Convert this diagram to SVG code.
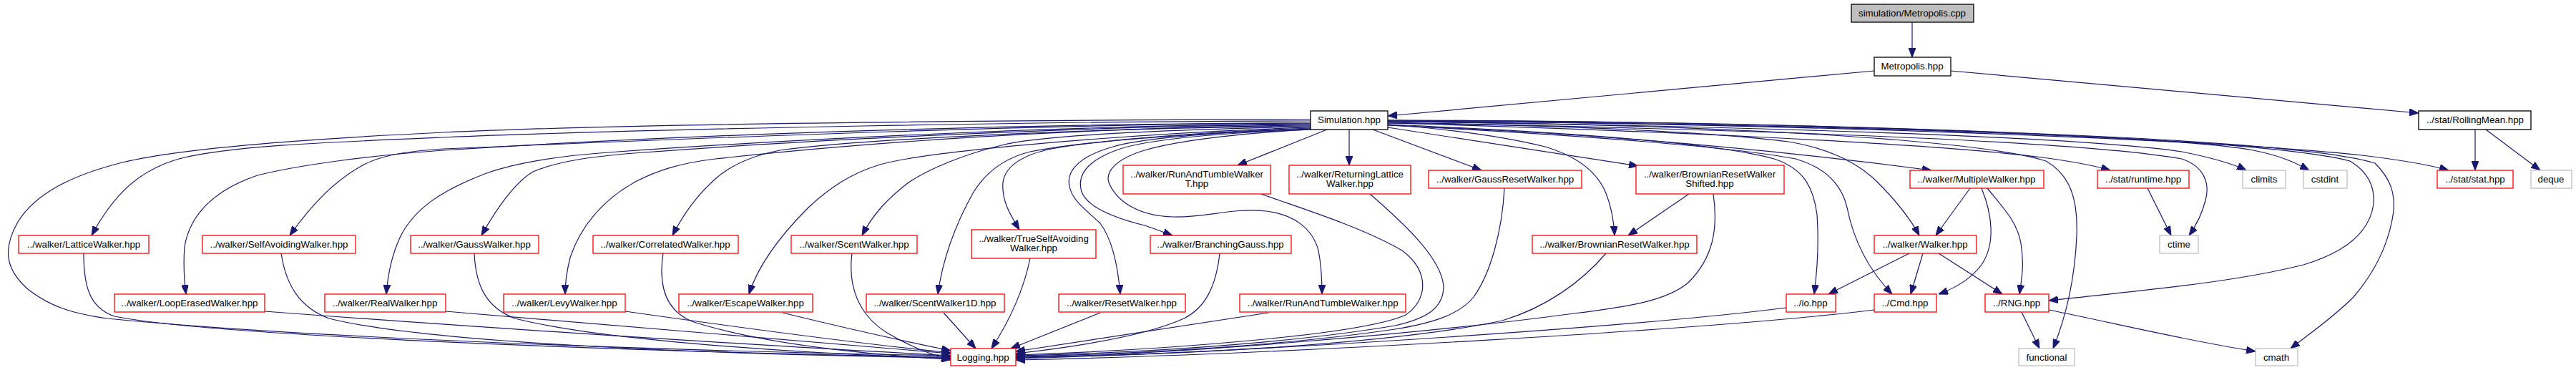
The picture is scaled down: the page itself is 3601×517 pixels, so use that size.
<svg xmlns="http://www.w3.org/2000/svg" width="3601" height="517" viewBox="0 0 3601 517">
<defs>
<style>
.n rect{fill:#ffffff;stroke:#ff0000;stroke-width:1.3}
.b rect{fill:#ffffff;stroke:#000000;stroke-width:1.3}
.g rect{fill:#ffffff;stroke:#bfbfbf;stroke-width:1.3}
.root rect{fill:#bfbfbf;stroke:#000000;stroke-width:1.3}
text{font-family:"Liberation Sans",Arial,sans-serif;font-size:13.3px;fill:#000000;text-anchor:middle}
#edges path{fill:none;stroke:#191970;stroke-width:1.2;marker-end:url(#a)}
</style>
<marker id="a" markerWidth="13" markerHeight="10" refX="13" refY="5" orient="auto" markerUnits="userSpaceOnUse"><path d="M0,0 L13,5 L0,10 z" fill="#191970" stroke="#191970" stroke-width="1"/></marker>
</defs>
<rect width="3601" height="517" fill="#ffffff"/>
<g id="edges">
<path d="M2673,31 L2673,80"/>
<path d="M2620,99 L1940,162"/>
<path d="M2727,99 L3381,158"/>
<path d="M3460,181 L3460,238"/>
<path d="M3475,181 L3551,238"/>
<path d="M1832,167 C1500,167 900,172 620,185 C450,193 260,205 171,227 C100,245 50,270 25,310 C5,345 5,375 40,405 C70,428 100,438 150,445 C400,470 900,490 1329,497"/>
<path d="M1832,169 C1500,169 900,180 620,192 C450,199 320,204 250,222 C195,238 160,270 128,329"/>
<path d="M1832,172 C1500,172 1000,185 620,210 C520,217 420,230 360,245 C300,265 265,300 258,345 C256,370 258,395 260,411"/>
<path d="M1832,172 C1500,172 1000,192 620,208 C560,212 530,218 505,232 C470,252 440,280 405,329"/>
<path d="M1832,173 C1500,175 1100,195 850,213 C780,218 720,228 680,242 C620,265 580,290 560,330 C548,355 542,385 540,411"/>
<path d="M1832,174 C1500,176 1100,198 900,213 C830,218 780,225 745,240 C720,255 695,290 673,329"/>
<path d="M1832,175 C1500,178 1200,200 1000,222 C950,228 920,238 890,253 C840,280 810,320 797,360 C792,380 790,395 790,411"/>
<path d="M1832,176 C1500,180 1200,195 1090,210 C1050,218 1020,232 1000,250 C975,272 955,300 940,329"/>
<path d="M1832,178 C1600,185 1300,210 1230,230 C1190,242 1160,262 1130,290 C1090,330 1060,370 1047,411"/>
<path d="M1832,177 C1600,182 1450,190 1400,203 C1350,215 1300,235 1270,255 C1240,278 1220,300 1205,329"/>
<path d="M1832,179 C1650,185 1500,200 1440,212 C1400,222 1375,245 1360,270 C1335,315 1318,360 1311,411"/>
<path d="M1832,180 C1650,187 1520,198 1470,208 C1430,216 1405,232 1402,255 C1400,280 1412,300 1425,321"/>
<path d="M1832,180 C1700,185 1600,192 1556,205 C1510,218 1490,238 1495,260 C1498,280 1520,295 1538,312 C1555,335 1563,375 1566,411"/>
<path d="M1832,181 C1700,186 1600,195 1560,210 C1520,225 1505,245 1512,268 C1520,290 1560,305 1600,315 C1615,320 1628,325 1639,329"/>
<path d="M1832,181 C1750,185 1650,195 1600,210 C1560,222 1545,240 1550,255 C1560,280 1590,302 1640,303 C1690,304 1720,290 1770,295 C1810,300 1835,320 1843,350 C1847,370 1848,390 1848,411"/>
<path d="M1855,181 L1730,231"/>
<path d="M1886,181 L1886,231"/>
<path d="M1919,181 L2071,238"/>
<path d="M1940,178 L2290,232"/>
<path d="M1940,174 C2020,180 2100,190 2160,205 C2210,220 2235,245 2245,270 C2253,290 2256,310 2257,329"/>
<path d="M2361,271 L2276,329"/>
<path d="M1940,175 C2200,185 2450,205 2700,238"/>
<path d="M1940,172 C2300,182 2700,200 2855,220 C2900,226 2930,232 2950,238"/>
<path d="M1940,172 C2200,175 2400,185 2500,198 C2560,208 2600,230 2625,255 C2650,280 2670,305 2683,329"/>
<path d="M1940,174 C2200,185 2400,200 2480,222 C2520,235 2535,260 2540,300 C2543,340 2540,380 2536,411"/>
<path d="M1940,175 C2200,188 2420,205 2510,222 C2555,235 2575,260 2582,290 C2592,340 2615,380 2645,411"/>
<path d="M1940,170 C2300,172 2750,190 2860,225 C2895,245 2905,280 2903,330 C2900,400 2885,450 2870,487"/>
<path d="M1940,171 C2400,180 2900,195 3050,222 C3080,232 3090,255 3083,280 C3078,300 3070,315 3060,329"/>
<path d="M1940,170 C2400,175 2900,190 3050,212 C3090,220 3120,228 3140,238"/>
<path d="M1940,169 C2500,172 3050,190 3150,210 C3190,218 3210,228 3228,238"/>
<path d="M1940,169 C2500,172 3100,195 3302,217 C3360,224 3395,230 3423,238"/>
<path d="M1940,168 C2500,170 3150,190 3285,225 C3310,240 3320,260 3318,285 C3312,330 3270,355 3220,370 C3120,395 3000,405 2864,420"/>
<path d="M1940,168 C2500,170 3200,190 3320,228 C3342,250 3348,270 3346,295 C3340,340 3320,380 3290,415 C3260,445 3230,465 3202,487"/>
<path d="M2864,433 C2950,450 3050,475 3153,491"/>
<path d="M2826,436 L2851,487"/>
<path d="M3002,263 L3035,329"/>
<path d="M2754,263 L2706,329"/>
<path d="M2770,263 C2785,300 2790,340 2770,370 C2755,390 2735,402 2710,411"/>
<path d="M2778,263 C2800,290 2820,310 2825,340 C2830,370 2826,390 2823,411"/>
<path d="M2669,354 L2556,411"/>
<path d="M2688,354 L2671,411"/>
<path d="M2710,354 L2799,411"/>
<path d="M117,354 C117,400 125,430 160,442 C300,470 900,492 1329,499"/>
<path d="M393,354 C400,400 420,430 460,445 C600,480 1000,495 1329,500"/>
<path d="M370,435 C700,460 1100,485 1329,497"/>
<path d="M623,435 C900,460 1150,480 1329,494"/>
<path d="M663,354 C665,400 680,430 720,445 C850,478 1150,495 1329,501"/>
<path d="M874,435 C1050,460 1200,480 1329,493"/>
<path d="M927,354 C920,400 930,435 970,450 C1080,485 1250,498 1329,502"/>
<path d="M1094,437 C1180,458 1270,478 1329,490"/>
<path d="M1191,354 C1185,400 1200,440 1240,465 C1270,483 1300,495 1329,503"/>
<path d="M1319,437 L1364,487"/>
<path d="M1440,361 C1430,410 1410,450 1386,487"/>
<path d="M1538,437 L1413,487"/>
<path d="M1773,437 L1420,491"/>
<path d="M1705,354 C1700,400 1685,430 1655,445 C1600,470 1500,485 1420,494"/>
<path d="M1763,271 C1800,285 1900,315 1960,350 C2000,380 1995,420 1965,440 C1900,470 1600,490 1420,496"/>
<path d="M1915,271 C1960,310 2015,360 2018,400 C2018,430 1995,445 1950,455 C1800,480 1600,493 1420,497"/>
<path d="M2103,263 C2100,320 2085,380 2060,415 C2040,440 2000,452 1950,460 C1800,482 1600,495 1420,498"/>
<path d="M2245,354 C2210,395 2160,430 2100,448 C1950,480 1650,497 1420,499"/>
<path d="M2395,271 C2402,320 2395,360 2360,395 C2330,420 2280,428 2200,438 C2000,465 1650,495 1420,500"/>
<path d="M2497,430 C2300,455 1800,490 1420,501"/>
<path d="M2620,433 C2400,460 1800,495 1420,503"/>
</g>
<g id="metropolis_cpp" class="root"><rect x="2588" y="6" width="171" height="25"/><text x="2673" y="23">simulation/Metropolis.cpp</text></g>
<g id="metropolis_hpp" class="b"><rect x="2620" y="80" width="107" height="26"/><text x="2673" y="97">Metropolis.hpp</text></g>
<g id="simulation_hpp" class="b"><rect x="1832" y="155" width="108" height="26"/><text x="1886" y="172">Simulation.hpp</text></g>
<g id="rollingmean_hpp" class="b"><rect x="3381" y="155" width="157" height="26"/><text x="3460" y="172">../stat/RollingMean.hpp</text></g>
<g id="runandtumblewalkert_hpp" class="n"><rect x="1570" y="231" width="206" height="40"/><text x="1673" y="248">../walker/RunAndTumbleWalker</text><text x="1673" y="261">T.hpp</text></g>
<g id="returninglatticewalker_hpp" class="n"><rect x="1802" y="231" width="170" height="40"/><text x="1887" y="248">../walker/ReturningLattice</text><text x="1887" y="261">Walker.hpp</text></g>
<g id="gaussresetwalker_hpp" class="n"><rect x="1997" y="238" width="214" height="25"/><text x="2104" y="255">../walker/GaussResetWalker.hpp</text></g>
<g id="brownianresetwalkershifted_hpp" class="n"><rect x="2287" y="231" width="207" height="40"/><text x="2390" y="248">../walker/BrownianResetWalker</text><text x="2390" y="261">Shifted.hpp</text></g>
<g id="multiplewalker_hpp" class="n"><rect x="2670" y="238" width="187" height="25"/><text x="2763" y="255">../walker/MultipleWalker.hpp</text></g>
<g id="runtime_hpp" class="n"><rect x="2932" y="238" width="128" height="25"/><text x="2996" y="255">../stat/runtime.hpp</text></g>
<g id="climits" class="g"><rect x="3135" y="238" width="60" height="25"/><text x="3165" y="255">climits</text></g>
<g id="cstdint" class="g"><rect x="3220" y="238" width="61" height="25"/><text x="3250" y="255">cstdint</text></g>
<g id="stat_hpp" class="n"><rect x="3407" y="238" width="106" height="25"/><text x="3460" y="255">../stat/stat.hpp</text></g>
<g id="deque" class="g"><rect x="3538" y="238" width="57" height="25"/><text x="3566" y="255">deque</text></g>
<g id="latticewalker_hpp" class="n"><rect x="26" y="329" width="182" height="25"/><text x="117" y="346">../walker/LatticeWalker.hpp</text></g>
<g id="selfavoidingwalker_hpp" class="n"><rect x="283" y="329" width="214" height="25"/><text x="390" y="346">../walker/SelfAvoidingWalker.hpp</text></g>
<g id="gausswalker_hpp" class="n"><rect x="574" y="329" width="179" height="25"/><text x="663" y="346">../walker/GaussWalker.hpp</text></g>
<g id="correlatedwalker_hpp" class="n"><rect x="829" y="329" width="203" height="25"/><text x="930" y="346">../walker/CorrelatedWalker.hpp</text></g>
<g id="scentwalker_hpp" class="n"><rect x="1106" y="329" width="176" height="25"/><text x="1194" y="346">../walker/ScentWalker.hpp</text></g>
<g id="trueselfavoidingwalker_hpp" class="n"><rect x="1358" y="321" width="174" height="40"/><text x="1445" y="338">../walker/TrueSelfAvoiding</text><text x="1445" y="351">Walker.hpp</text></g>
<g id="branchinggauss_hpp" class="n"><rect x="1608" y="329" width="197" height="25"/><text x="1706" y="346">../walker/BranchingGauss.hpp</text></g>
<g id="brownianresetwalker_hpp" class="n"><rect x="2142" y="329" width="230" height="25"/><text x="2257" y="346">../walker/BrownianResetWalker.hpp</text></g>
<g id="walker_hpp" class="n"><rect x="2620" y="329" width="143" height="25"/><text x="2691" y="346">../walker/Walker.hpp</text></g>
<g id="ctime" class="g"><rect x="3019" y="329" width="54" height="25"/><text x="3046" y="346">ctime</text></g>
<g id="looperasedwalker_hpp" class="n"><rect x="160" y="411" width="210" height="25"/><text x="265" y="428">../walker/LoopErasedWalker.hpp</text></g>
<g id="realwalker_hpp" class="n"><rect x="454" y="411" width="169" height="25"/><text x="538" y="428">../walker/RealWalker.hpp</text></g>
<g id="levywalker_hpp" class="n"><rect x="704" y="411" width="170" height="25"/><text x="789" y="428">../walker/LevyWalker.hpp</text></g>
<g id="escapewalker_hpp" class="n"><rect x="949" y="411" width="187" height="25"/><text x="1042" y="428">../walker/EscapeWalker.hpp</text></g>
<g id="scentwalker1d_hpp" class="n"><rect x="1211" y="411" width="193" height="25"/><text x="1307" y="428">../walker/ScentWalker1D.hpp</text></g>
<g id="resetwalker_hpp" class="n"><rect x="1480" y="411" width="177" height="25"/><text x="1568" y="428">../walker/ResetWalker.hpp</text></g>
<g id="runandtumblewalker_hpp" class="n"><rect x="1733" y="411" width="232" height="25"/><text x="1849" y="428">../walker/RunAndTumbleWalker.hpp</text></g>
<g id="io_hpp" class="n"><rect x="2497" y="411" width="69" height="25"/><text x="2531" y="428">../io.hpp</text></g>
<g id="cmd_hpp" class="n"><rect x="2620" y="411" width="87" height="25"/><text x="2663" y="428">../Cmd.hpp</text></g>
<g id="rng_hpp" class="n"><rect x="2775" y="411" width="89" height="25"/><text x="2819" y="428">../RNG.hpp</text></g>
<g id="logging_hpp" class="n"><rect x="1329" y="487" width="91" height="24"/><text x="1374" y="504">Logging.hpp</text></g>
<g id="functional" class="g"><rect x="2822" y="487" width="78" height="24"/><text x="2861" y="504">functional</text></g>
<g id="cmath" class="g"><rect x="3153" y="487" width="59" height="24"/><text x="3182" y="504">cmath</text></g>
</svg>
